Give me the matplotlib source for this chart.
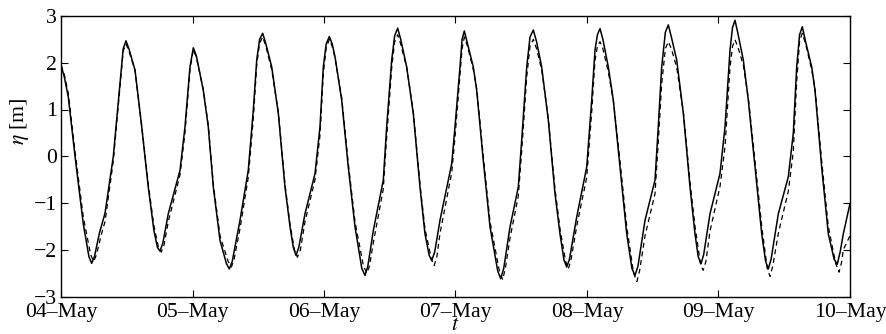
import matplotlib
matplotlib.use("Agg")
import matplotlib.pyplot as plt

# Observed (solid) series: hours since 04-May 00:00 and elevation [m]
obs_hours = [0.0, 0.6, 1.33, 2.56, 4.07, 5.1, 5.60, 6.1, 7.0, 8.03, 9.55, 10.77, 11.35, 11.86, 12.4,
             13.51, 14.73, 15.93, 16.97, 17.6, 18.07, 18.6, 19.58, 21.72, 22.63, 23.54, 24.15, 24.7,
             25.97, 26.88, 27.80, 29.02, 30.2, 30.72, 31.25, 32.67, 34.18, 35.10, 35.72, 36.25, 36.81,
             37.4, 38.46, 39.66, 40.88, 41.80, 42.4, 42.89, 43.4, 44.53, 46.36, 47.27, 47.87, 48.4,
             48.97, 49.5, 50.01, 51.23, 52.43, 53.66, 54.9, 55.48, 56.0, 57.00, 58.82, 59.44, 60.36,
             60.9, 61.45, 62.0, 63.09, 64.30, 65.52, 66.43, 67.2, 67.66, 68.2, 69.17, 71.31, 71.91,
             72.82, 73.2, 73.61, 74.2, 75.25, 75.87, 77.07, 78.30, 79.7, 80.25, 80.8, 81.95, 83.46,
             84.08, 85.00, 85.6, 86.20, 86.8, 87.73, 88.94, 90.16, 91.07, 91.8, 92.30, 92.8, 94.12,
             95.95, 96.86, 97.46, 97.9, 98.37, 98.9, 99.89, 100.80, 102.02, 103.25, 104.2, 104.76,
             105.3, 106.59, 108.41, 109.01, 109.63, 110.3, 110.84, 111.4, 112.37, 113.58, 114.80,
             115.71, 116.3, 116.81, 117.3, 118.45, 120.27, 121.19, 122.10, 122.55, 123.01, 123.5,
             124.53, 125.44, 126.66, 127.89, 128.6, 129.09, 129.6, 130.92, 132.74, 133.65, 134.27,
             134.8, 135.29, 135.9, 137.01, 137.61, 138.83, 140.04, 141.1, 141.68, 142.2, 142.78,
             144.0]
obs_eta = [1.95, 1.7, 1.27, 0.0, -1.45, -2.15, -2.29, -2.15, -1.65, -1.22, 0.0, 1.56, 2.3, 2.47, 2.3,
           1.84, 0.63, -0.66, -1.6, -1.95, -2.03, -1.85, -1.23, -0.3, 0.63, 1.91, 2.32, 2.15,
           1.41, 0.63, -0.66, -1.8, -2.3, -2.41, -2.25, -1.37, -0.3, 0.99, 2.06, 2.5, 2.63,
           2.4, 1.91, 0.92, -0.66, -1.51, -1.95, -2.12, -1.95, -1.23, -0.37, 0.63, 1.91, 2.4,
           2.56, 2.4, 2.13, 1.2, -0.23, -1.51, -2.4, -2.55, -2.35, -1.59, -0.51, 0.63, 2.06,
           2.58, 2.74, 2.5, 1.91, 0.91, -0.66, -1.66, -2.12, -2.23, -2.05, -1.37, -0.16, 0.63,
           1.91, 2.5, 2.68, 2.4, 1.91, 1.41, -0.09, -1.51, -2.45, -2.62, -2.4, -1.51, -0.66,
           0.34, 1.91, 2.55, 2.70, 2.45, 1.91, 0.77, -0.8, -1.66, -2.22, -2.37, -2.2, -1.3,
           -0.23, 1.2, 2.27, 2.6, 2.73, 2.5, 1.91, 1.2, -0.23, -1.66, -2.4, -2.55,
           -2.35, -1.37, -0.51, 0.63, 1.91, 2.65, 2.81, 2.55, 2.06, 0.92, -0.66,
           -1.66, -2.15, -2.3, -2.1, -1.23, -0.37, 0.63, 2.27, 2.75, 2.91, 2.65,
           2.06, 1.2, -0.23, -1.66, -2.25, -2.41, -2.2, -1.23, -0.44, 0.49, 1.91,
           2.6, 2.77, 2.45, 1.91, 1.41, -0.23, -1.66, -2.2, -2.31, -2.05, -1.66,
           -1.01]

# Model (dashed) series
model_hours = [0.0, 0.6, 1.33, 2.56, 4.07, 5.4, 5.95, 6.5, 7.3, 8.03, 9.55, 10.77, 11.35, 11.86, 12.4,
               13.51, 14.73, 15.93, 16.97, 17.8, 18.30, 18.8, 19.58, 21.72, 22.63, 23.54, 24.15, 24.7,
               25.97, 26.88, 27.80, 29.02, 30.5, 31.10, 31.6, 32.67, 34.18, 35.10, 35.72, 36.25, 36.81,
               37.4, 38.46, 39.66, 40.88, 41.80, 42.6, 43.15, 43.7, 44.53, 46.36, 47.27, 47.87, 48.4,
               48.97, 49.5, 50.01, 51.23, 52.43, 53.66, 55.2, 55.80, 56.3, 57.00, 58.82, 59.44, 60.36,
               60.9, 61.45, 62.0, 63.09, 64.30, 65.52, 66.43, 67.6, 68.10, 68.6, 69.17, 71.31, 71.91,
               72.82, 73.2, 73.61, 74.2, 75.25, 75.87, 77.07, 78.30, 80.0, 80.60, 81.1, 81.95, 83.46,
               84.08, 85.00, 85.6, 86.20, 86.8, 87.73, 88.94, 90.16, 91.07, 92.1, 92.60, 93.1, 94.12,
               95.95, 96.86, 97.46, 97.9, 98.37, 98.9, 99.89, 100.80, 102.02, 103.25, 104.5, 105.10,
               105.6, 106.59, 108.41, 109.01, 109.63, 110.3, 110.84, 111.4, 112.37, 113.58, 114.80,
               115.71, 116.7, 117.20, 117.7, 118.45, 120.27, 121.19, 122.10, 122.55, 123.01, 123.5,
               124.53, 125.44, 126.66, 127.89, 128.9, 129.40, 129.9, 130.92, 132.74, 133.65, 134.27,
               134.8, 135.29, 135.9, 137.01, 137.61, 138.83, 140.04, 141.4, 142.00, 142.5, 142.78,
               144.0]
model_eta = [1.95, 1.75, 1.35, 0.1, -1.3, -2.1, -2.25, -2.1, -1.7, -1.4, -0.1, 1.5, 2.25, 2.4, 2.25,
             1.84, 0.65, -0.6, -1.5, -1.95, -2.05, -1.9, -1.4, -0.4, 0.5, 1.85, 2.28, 2.12,
             1.43, 0.66, -0.6, -1.7, -2.25, -2.37, -2.2, -1.55, -0.45, 0.8, 1.95, 2.42, 2.55,
             2.35, 1.85, 0.95, -0.6, -1.45, -2.0, -2.16, -2.0, -1.4, -0.5, 0.45, 1.75, 2.32,
             2.5, 2.35, 2.1, 1.25, -0.15, -1.4, -2.35, -2.5, -2.35, -1.85, -0.7, 0.4, 1.9,
             2.45, 2.6, 2.4, 1.9, 0.95, -0.6, -1.55, -2.2, -2.34, -2.15, -1.65, -0.35, 0.4,
             1.75, 2.3, 2.55, 2.35, 1.85, 1.45, 0.0, -1.4, -2.45, -2.64, -2.4, -1.75, -0.85,
             0.1, 1.7, 2.35, 2.5, 2.3, 1.85, 0.8, -0.7, -1.55, -2.25, -2.41, -2.2, -1.5,
             -0.45, 0.95, 2.05, 2.35, 2.45, 2.3, 1.8, 1.2, -0.1, -1.5, -2.5, -2.68,
             -2.45, -1.7, -0.8, 0.3, 1.55, 2.3, 2.45, 2.3, 1.9, 0.95, -0.55,
             -1.5, -2.3, -2.44, -2.25, -1.6, -0.65, 0.2, 1.9, 2.35, 2.49, 2.35,
             1.95, 1.25, -0.1, -1.5, -2.4, -2.57, -2.35, -1.65, -0.75, 0.1, 1.6,
             2.45, 2.63, 2.4, 1.85, 1.45, -0.1, -1.5, -2.3, -2.48, -2.25, -2.0,
             -1.7]

tick_hours = [0, 24, 48, 72, 96, 120, 144]
tick_labels = ["04\u2013May", "05\u2013May", "06\u2013May", "07\u2013May",
               "08\u2013May", "09\u2013May", "10\u2013May"]
y_ticks = [-3, -2, -1, 0, 1, 2, 3]

plt.rcParams['font.family'] = ['Liberation Serif', 'DejaVu Serif']
plt.rcParams['mathtext.fontset'] = 'stix'

FS = 15.7
fig = plt.figure(figsize=(8.86, 3.34), dpi=100)
ax = fig.add_axes([61/886, 1-296.5/334, (850-61)/886, (296.5-16)/334])

ax.plot(obs_hours, obs_eta, color='black', lw=1.1, solid_joinstyle='round')
ax.plot(model_hours, model_eta, color='black', lw=0.9, linestyle=(0, (4, 3)))

ax.set_xlim(0, 144)
ax.set_ylim(-3, 3)
ax.set_xticks(tick_hours)
ax.set_xticklabels(tick_labels)
ax.set_yticks(y_ticks)
ax.set_yticklabels([str(v).replace('-', '\u2212') for v in y_ticks])
ax.tick_params(direction='in', length=5, width=0.8, top=True, right=True,
               labelsize=FS)
ax.tick_params(axis='x', pad=4.5)
ax.tick_params(axis='y', pad=3)
for s in ax.spines.values():
    s.set_linewidth(1.0)

ax.set_ylabel(r'$\eta$ [m]', fontsize=FS, va='center')
ax.yaxis.set_label_coords(-0.052, 0.625)
ax.set_xlabel(r'$t$', fontsize=FS, va='center')
ax.xaxis.set_label_coords(0.5, -0.104)

fig.savefig('out.png', dpi=100)
